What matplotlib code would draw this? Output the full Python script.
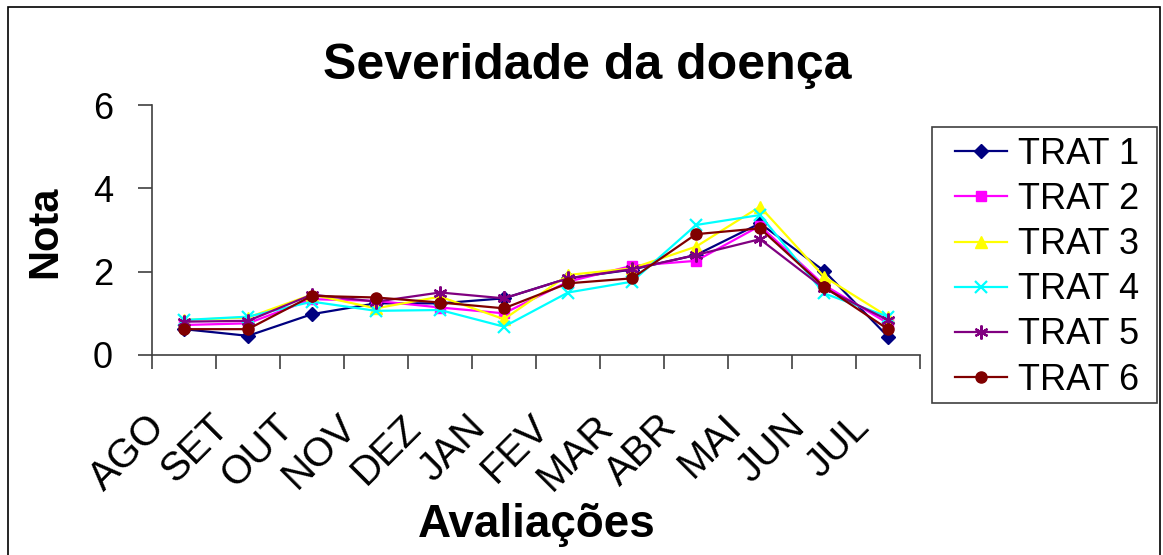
import matplotlib.pyplot as plt
from matplotlib.patches import Rectangle
from matplotlib.transforms import blended_transform_factory, ScaledTranslation

plt.rcParams['font.family'] = ['Liberation Sans', 'DejaVu Sans']

# data
meses = ['AGO', 'SET', 'OUT', 'NOV', 'DEZ', 'JAN', 'FEV', 'MAR', 'ABR', 'MAI', 'JUN', 'JUL']
trat1 = [0.62, 0.46, 0.98, 1.24, 1.24, 1.36, 1.84, 2.05, 2.40, 3.16, 2.02, 0.44]
trat2 = [0.72, 0.76, 1.34, 1.30, 1.14, 1.00, 1.76, 2.14, 2.26, 3.10, 1.68, 0.76]
trat3 = [0.84, 0.90, 1.45, 1.12, 1.40, 0.86, 1.92, 2.08, 2.60, 3.56, 1.88, 0.92]
trat4 = [0.84, 0.92, 1.28, 1.06, 1.08, 0.68, 1.50, 1.76, 3.12, 3.36, 1.48, 0.92]
trat5 = [0.80, 0.82, 1.45, 1.28, 1.50, 1.36, 1.84, 2.06, 2.40, 2.78, 1.60, 0.84]
trat6 = [0.62, 0.62, 1.42, 1.38, 1.26, 1.12, 1.72, 1.84, 2.90, 3.04, 1.64, 0.62]

nomes = ['TRAT 1', 'TRAT 2', 'TRAT 3', 'TRAT 4', 'TRAT 5', 'TRAT 6']
series = [trat1, trat2, trat3, trat4, trat5, trat6]
cores = ['#000080', '#FF00FF', '#FFFF00', '#00FFFF', '#800080', '#800000']
marcadores = ['D', 's', '^', 'x', (6, 2, 0), 'o']
tamanhos = [7, 7, 8, 9, 10, 8]

W, H = 1163, 555
fig = plt.figure(figsize=(W / 100, H / 100), dpi=100)
ax = fig.add_axes([152 / W, 1 - 355 / H, (920 - 152) / W, 250 / H])

# moldura externa
fig.patches.append(Rectangle((8 / W, -0.1), 1152 / W, 1.1 - 7 / H,
                             transform=fig.transFigure, fill=False,
                             edgecolor='black', linewidth=1.2))

x = list(range(len(meses)))
for nome, vals, cor, mk, ms in zip(nomes, series, cores, marcadores, tamanhos):
    ax.plot(x, vals, color=cor, marker=mk, markersize=ms, linewidth=1.6,
            markeredgewidth=1.6 if mk in ('x', (6, 2, 0)) else 1.0,
            markeredgecolor=cor, markerfacecolor=cor, label=nome)

ax.set_xlim(-0.5, len(meses) - 0.5)
ax.set_ylim(0, 6)
ax.set_yticks([0, 2, 4, 6])
ax.set_xticks([i - 0.5 for i in range(len(meses) + 1)])
ax.set_xticklabels([])
ax.tick_params(axis='x', length=10, width=1.2, color='#404040')
ax.tick_params(axis='y', length=10, width=1.2, color='#404040', labelsize=26, pad=18)

# rotulos dos meses (inclinados, como no Excel)
trans = blended_transform_factory(ax.transData, ax.transAxes)
desloc = ScaledTranslation(-25 / 100, -66 / 100, fig.dpi_scale_trans)
for i, m in enumerate(meses):
    ax.text(i, 0, m, transform=trans + desloc, rotation=45, rotation_mode='anchor',
            ha='right', va='center', fontsize=29, clip_on=False)

for s in ['top', 'right']:
    ax.spines[s].set_visible(False)
for s in ['left', 'bottom']:
    ax.spines[s].set_color('#404040')
    ax.spines[s].set_linewidth(1.2)

fig.text(45 / W, 1 - 232 / H, 'Nota', fontsize=30, fontweight='bold',
         rotation=90, ha='center', va='center')
fig.text(537 / W, 1 - 525 / H, 'Avaliações', fontsize=33, fontweight='bold',
         ha='center', va='center')
fig.text(587 / W, 1 - 66 / H, 'Severidade da doença', fontsize=36,
         fontweight='bold', ha='center', va='center')

# legenda: caixa desenhada a parte, conteudo sem moldura
fig.patches.append(Rectangle((932 / W, 1 - 403 / H), 225 / W, 276 / H,
                             transform=fig.transFigure, fill=False,
                             edgecolor='#404040', linewidth=1.2))
leg = ax.legend(loc='upper left', bbox_to_anchor=(955 / W, 1 - 137 / H),
                bbox_transform=fig.transFigure, fontsize=26, frameon=False,
                borderpad=0, labelspacing=0.28, handlelength=1.45,
                handletextpad=0.3, borderaxespad=0)

fig.savefig('out.png', dpi=100)
